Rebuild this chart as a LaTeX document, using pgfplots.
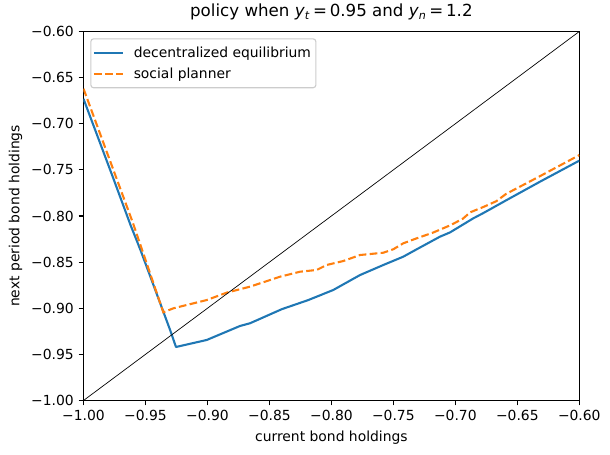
\documentclass[border=0pt]{standalone}
\usepackage{fontspec}
\setmainfont{DejaVu Sans}
\usepackage{pgfplots}
\pgfplotsset{compat=1.18}
\definecolor{C0}{HTML}{1F77B4}
\definecolor{C1}{HTML}{FF7F0E}
\definecolor{legframe}{rgb}{0.8,0.8,0.8}
\begin{document}
\begin{tikzpicture}
\useasboundingbox (-60.12pt,-38.52pt) rectangle (379.08pt,288.36pt);
\begin{axis}[
  scale only axis, width=356.98pt, height=265.68pt,
  xmin=-1, xmax=-0.6, ymin=-1, ymax=-0.6,
  xtick={-1,-0.95,-0.9,-0.85,-0.8,-0.75,-0.7,-0.65,-0.6},
  xticklabels={−1.00,−0.95,−0.90,−0.85,−0.80,−0.75,−0.70,−0.65,−0.60},
  ytick={-1,-0.95,-0.9,-0.85,-0.8,-0.75,-0.7,-0.65,-0.6},
  yticklabels={−1.00,−0.95,−0.90,−0.85,−0.80,−0.75,−0.70,−0.65,−0.60},
  tick align=outside, tick pos=left, major tick length=3.5pt,
  every tick/.style={black, line width=0.8pt},
  axis line style={line width=0.8pt},
  tick label style={font=\fontsize{10}{12}\selectfont},
  xlabel={current bond holdings},
  xlabel style={font=\fontsize{10}{12}\selectfont, at={(axis description cs:0.5,-0.1098)}, anchor=base},
  ylabel={next period bond holdings},
  ylabel style={font=\fontsize{10}{12}\selectfont, at={(axis description cs:-0.1291,0.5)}, anchor=base},
  legend image code/.code={\draw[#1] (0pt,0pt) -- (20.9pt,0pt);},
  legend cell align=left,
  legend style={at={(axis description cs:0.0137,0.9816)}, anchor=north west,
    draw=legframe, line width=0.8pt, rounded corners=2pt, fill=white,
    fill opacity=0.8, draw opacity=1, text opacity=1,
    inner xsep=1.5pt, inner ysep=3.5pt, row sep=2pt, column sep=5pt,
    nodes={inner sep=2pt, text depth=0.15em},
    font=\fontsize{10}{12}\selectfont},
]
\addplot[C0, line width=1.5pt, line join=round] coordinates {
(-1.000,-0.673) (-0.976,-0.759) (-0.962,-0.810) (-0.954,-0.837)
(-0.930,-0.924) (-0.9254,-0.942) (-0.9006,-0.9344) (-0.8737,-0.9192)
(-0.8657,-0.9163) (-0.840,-0.901) (-0.8186,-0.8911) (-0.7985,-0.8802)
(-0.7769,-0.8640) (-0.7581,-0.8531) (-0.7420,-0.8441) (-0.7312,-0.8361)
(-0.7124,-0.8224) (-0.7043,-0.8178) (-0.6855,-0.8025) (-0.6774,-0.7968)
(-0.6586,-0.7827) (-0.6317,-0.7628) (-0.600,-0.740)
};
\addlegendentry{decentralized equilibrium}
\addplot[C1, line width=1.5pt, dash pattern=on 5.55pt off 2.4pt] coordinates {
(-1.000,-0.662) (-0.960,-0.808) (-0.9356,-0.9044) (-0.9276,-0.9001)
(-0.9006,-0.8911) (-0.8845,-0.8831) (-0.8657,-0.8766) (-0.8495,-0.8694)
(-0.8415,-0.8658) (-0.8253,-0.8604) (-0.8119,-0.8585) (-0.8038,-0.8531)
(-0.7904,-0.8488) (-0.7769,-0.8423) (-0.7581,-0.8398) (-0.7501,-0.8361)
(-0.7420,-0.8296) (-0.7312,-0.8242) (-0.718,-0.818) (-0.704,-0.810)
(-0.694,-0.803) (-0.688,-0.796) (-0.677,-0.790) (-0.667,-0.784)
(-0.659,-0.776) (-0.632,-0.757) (-0.600,-0.734)
};
\addlegendentry{social planner}
\addplot[black, line width=0.5pt, forget plot] coordinates {(-1,-1) (-0.6,-0.6)};
\end{axis}
\node[anchor=base, font=\fontsize{12}{14}\selectfont] at (178.49pt,276.12pt)
  {policy when \textit{y}\textsubscript{\textit{t}}\,=\,0.95 and \textit{y}\textsubscript{\textit{n}}\,=\,1.2};
\end{tikzpicture}
\end{document}
